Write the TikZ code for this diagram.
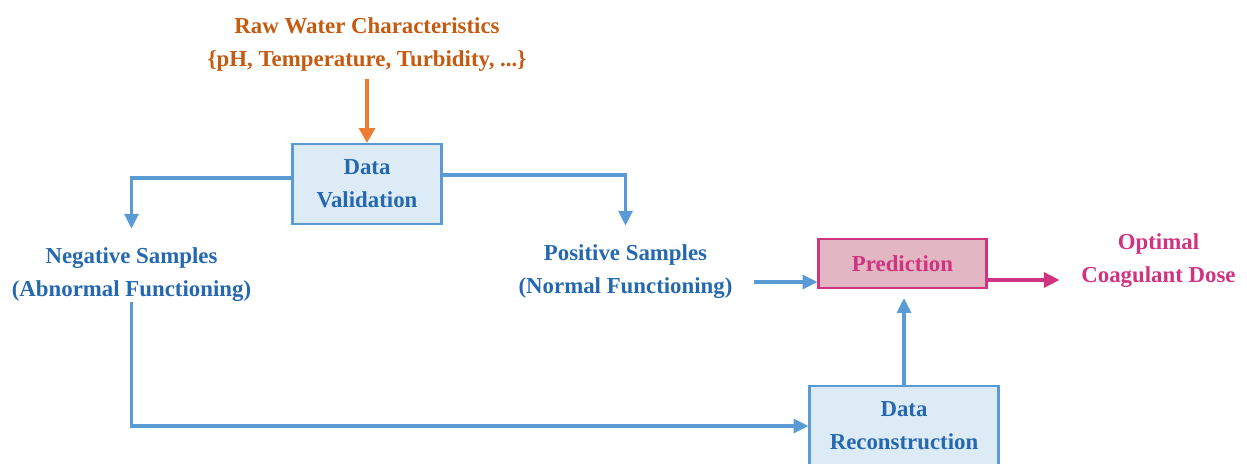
\documentclass[tikz,border=0pt]{standalone}
\usepackage{fontspec}
\setmainfont{Liberation Serif}
\usepackage{tikz}
\usetikzlibrary{arrows.meta,positioning}

\definecolor{lineblue}{HTML}{5B9BD5}
\definecolor{textblue}{HTML}{2568B0}
\definecolor{boxblue}{HTML}{DDEBF7}
\definecolor{rawtext}{HTML}{C55A11}
\definecolor{rawarrow}{HTML}{ED7D31}
\definecolor{predtext}{HTML}{D0337F}
\definecolor{predfill}{HTML}{E2B6C3}

\tikzset{
  txt/.style={align=center,inner sep=0pt,font=\fontsize{13}{18.8}\selectfont\bfseries},
  blockbox/.style={txt,draw=lineblue,line width=1.2pt,fill=boxblue,text=textblue,minimum height=1.6cm},
  flow/.style={draw=lineblue,line width=1.8pt,-{Triangle[width=8pt,length=8.5pt]}},
}

\begin{document}
\begin{tikzpicture}[node distance=2cm,on grid]
      \useasboundingbox (0,0) rectangle (24.94,-9.26);

      \node[txt,text=rawtext] (raw) at (7.34,-0.90) {Raw Water Characteristics\\\{pH, Temperature, Turbidity, ...\}};
      \node[blockbox,minimum width=2.98cm] (val) [below=2.78cm of raw] {Data\\Validation};

      \node[txt,text=textblue] (neg) [below left=1.82cm and 4.71cm of val] {Negative Samples\\(Abnormal Functioning)};
      \node[txt,text=textblue] (pos) [below right=1.76cm and 5.17cm of val] {Positive Samples\\(Normal Functioning)};

      \node[blockbox,draw=predtext,fill=predfill,text=predtext,minimum width=3.36cm,minimum height=0.98cm]
        (pred) [right=5.54cm of pos,yshift=0.17cm] {Prediction};
      \node[txt,text=predtext] (opt) [right=5.12cm of pred,yshift=0.05cm] {Optimal\\Coagulant Dose};
      \node[blockbox,minimum width=3.78cm] (rec) [below=3.25cm of pred,xshift=0.03cm] {Data\\Reconstruction};

      \coordinate (in) at ([yshift=-0.37cm]pred.west);
      \coordinate (out) at ([yshift=-0.33cm]pred.east);

      % incoming raw data
      \draw[draw=rawarrow,line width=2.3pt,-{Triangle[width=9pt,length=8.5pt]},shorten <=0.14cm]
        (raw.south) -- (val.north);

      % split after validation
      \draw[flow] ([yshift=0.12cm]val.west) -| ([yshift=0.38cm]neg.north);
      \draw[flow] ([yshift=0.18cm]val.east) -| ([yshift=0.38cm]pos.north);

      \draw[flow] ([yshift=0.0cm]neg.south) |- (rec.west);
      \draw[flow,shorten >=0.18cm] (rec.north) -- (rec.north |- pred.south);
      \draw[flow] ([xshift=-1.26cm]in) -- (in);

      \draw[draw=predtext,line width=2.3pt,-{Triangle[width=8.5pt,length=9pt]}]
        (out) -- ++(1.44,0);
\end{tikzpicture}
\end{document}
